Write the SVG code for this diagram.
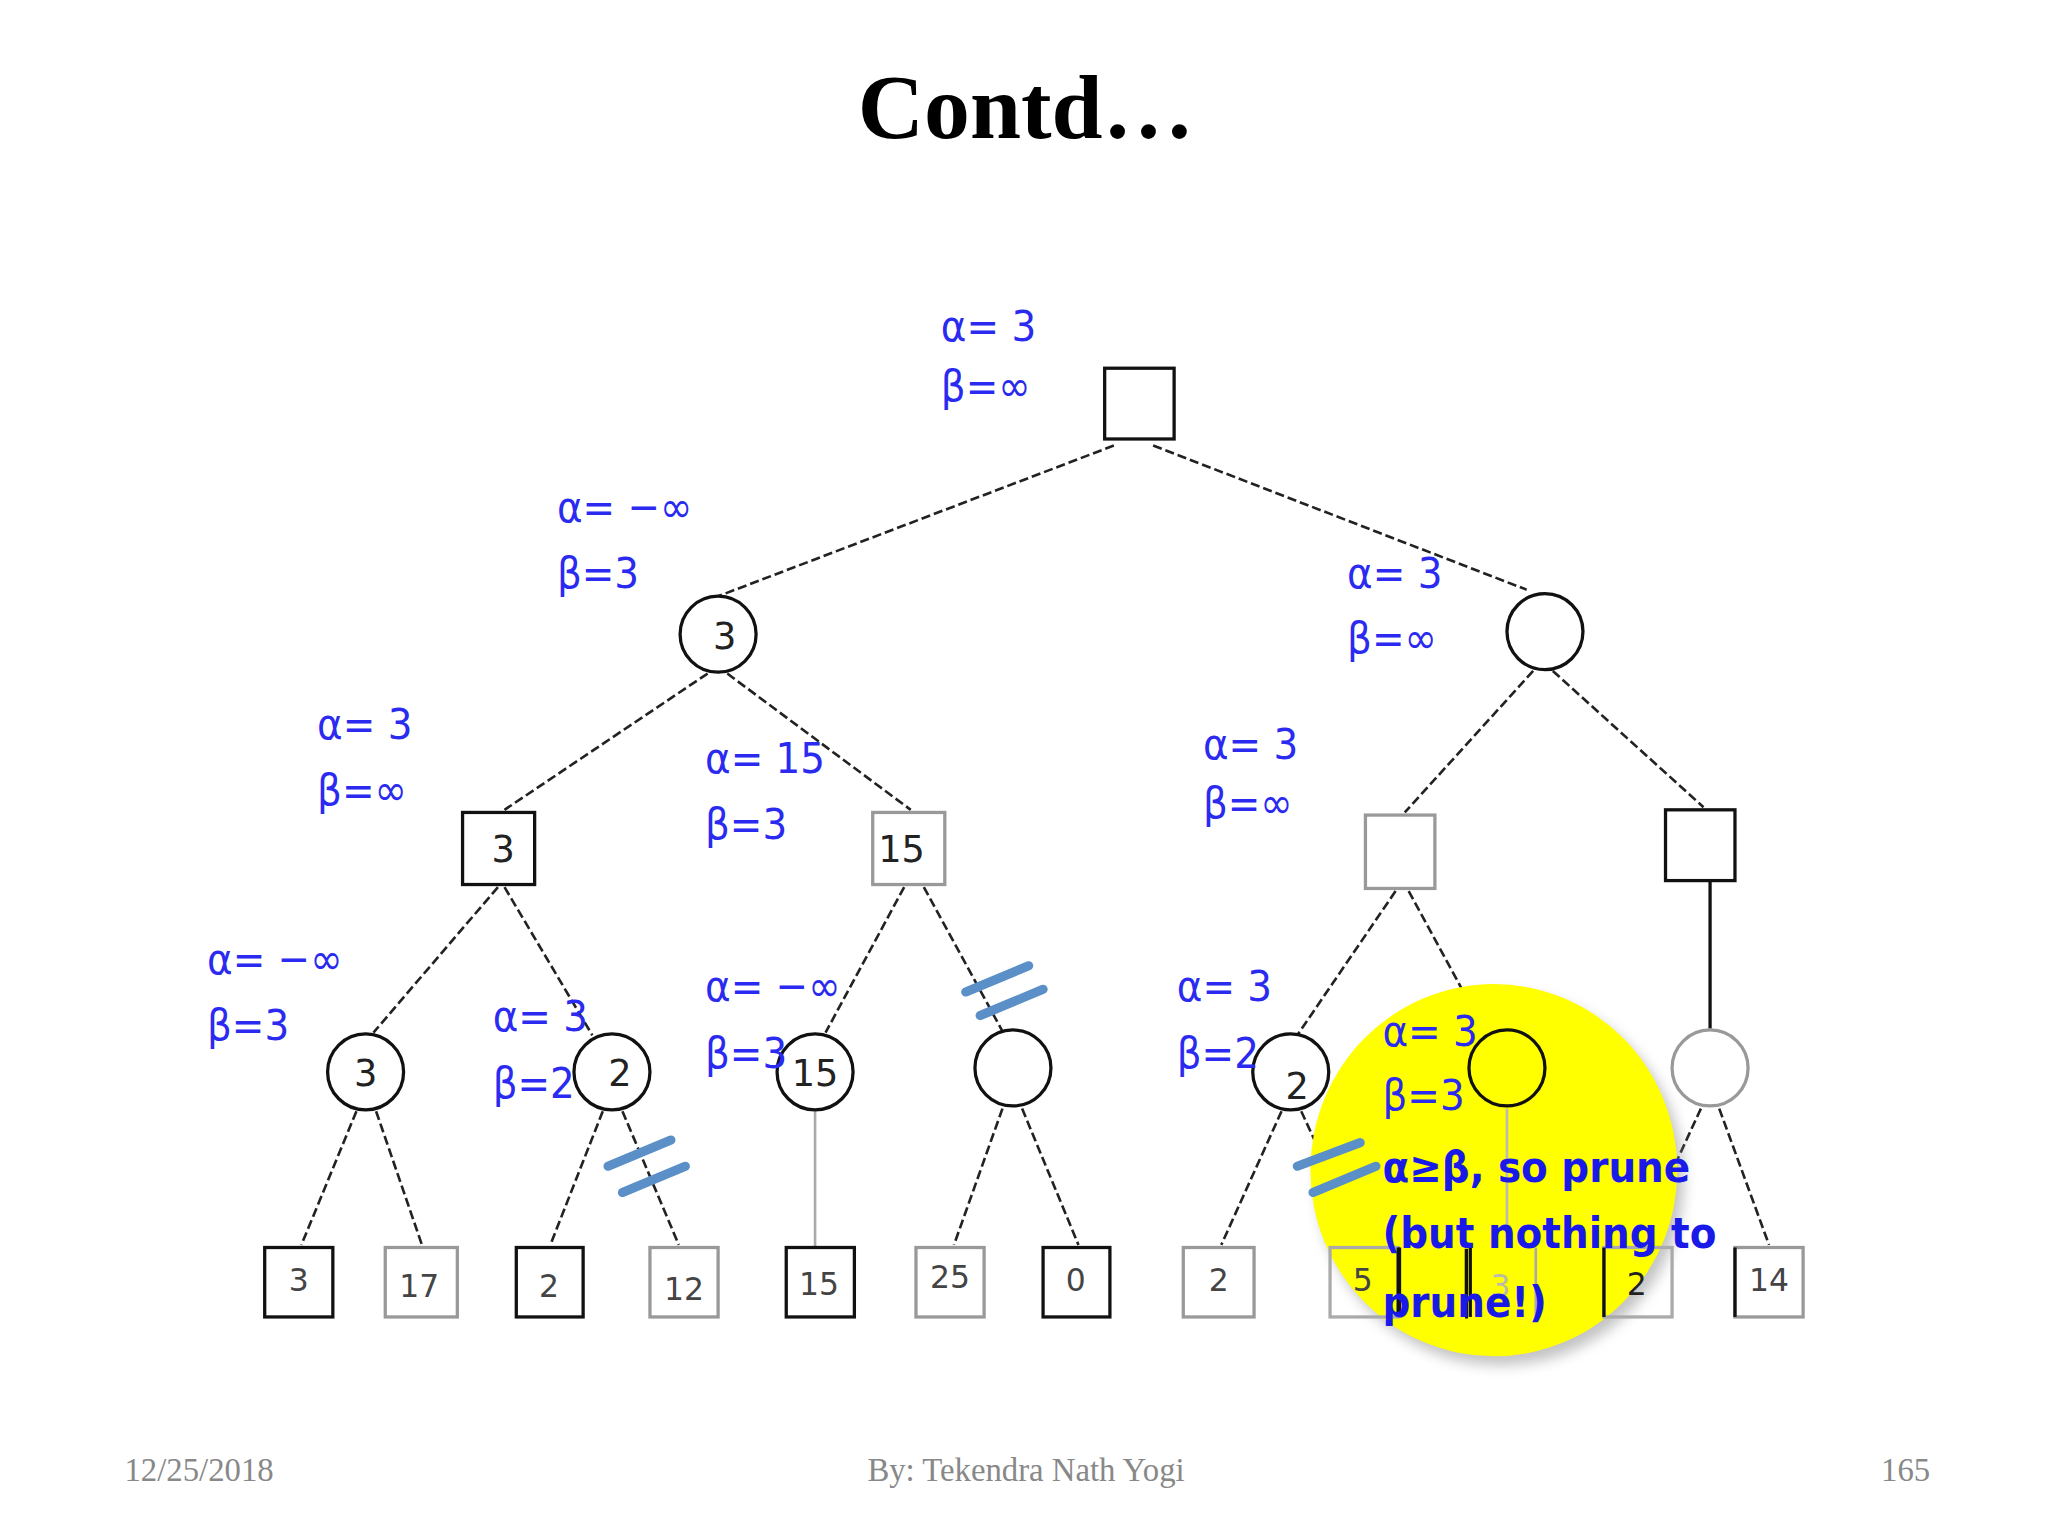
<svg xmlns="http://www.w3.org/2000/svg" width="2048" height="1536" viewBox="0 0 2048 1536">
<defs>
<style>
.lbl{font-family:"DejaVu Sans Condensed","DejaVu Sans",sans-serif;font-size:33px;fill:#2a2af0}
.big{font-family:"DejaVu Sans Condensed","DejaVu Sans",sans-serif;font-size:33px;fill:#1a1ae8;font-weight:bold}
.val{font-family:"DejaVu Sans",sans-serif;font-size:28px;fill:#222;text-anchor:middle}
.leaf{font-family:"DejaVu Sans",sans-serif;font-size:24px;fill:#444;text-anchor:middle}
.nd{fill:#fff;stroke:#111;stroke-width:2.5}
.ndg{fill:#fff;stroke:#999;stroke-width:2.5}
.e{stroke:#222;stroke-width:2;stroke-dasharray:7 3;fill:none}
.p{stroke:#5b8fc7;stroke-width:7;stroke-linecap:round}
.ft{font-family:"Liberation Serif",serif;font-size:25px;fill:#888}
</style>
<filter id="sh"><feGaussianBlur stdDeviation="5"/></filter>
</defs>
<rect width="2048" height="1536" fill="#fff"/>
<g transform="scale(1.3104)">
<text x="783" y="105" text-anchor="middle" font-family="Liberation Serif,serif" font-weight="bold" font-size="70">Contd…</text>
<g id="connectors">
<line class="e" x1="850" y1="340" x2="548" y2="455"/>
<line class="e" x1="880" y1="340" x2="1165" y2="450"/>
<line class="e" x1="540" y1="514" x2="385" y2="618"/>
<line class="e" x1="555" y1="514" x2="695" y2="618"/>
<line class="e" x1="1170" y1="512" x2="1072" y2="620"/>
<line class="e" x1="1185" y1="512" x2="1300" y2="616"/>
<line class="e" x1="380" y1="677" x2="285" y2="788"/>
<line class="e" x1="385" y1="677" x2="452" y2="790"/>
<line class="e" x1="690" y1="677" x2="630" y2="788"/>
<line class="e" x1="705" y1="677" x2="765" y2="787"/>
<line class="e" x1="1065" y1="680" x2="990" y2="790"/>
<line class="e" x1="1075" y1="680" x2="1132" y2="785"/>
<line stroke="#111" stroke-width="2.5" x1="1305" y1="672" x2="1305" y2="785"/>
<line class="e" x1="272" y1="848" x2="230" y2="950"/>
<line class="e" x1="287" y1="848" x2="322" y2="950"/>
<line class="e" x1="460" y1="848" x2="420" y2="950"/>
<line class="e" x1="475" y1="848" x2="518" y2="950"/>
<line stroke="#aaa" stroke-width="2" x1="622" y1="848" x2="622" y2="952"/>
<line class="e" x1="765" y1="846" x2="728" y2="950"/>
<line class="e" x1="780" y1="846" x2="823" y2="950"/>
<line class="e" x1="978" y1="848" x2="932" y2="950"/>
<line class="e" x1="993" y1="848" x2="1040" y2="950"/>
<line class="e" x1="1298" y1="846" x2="1250" y2="950"/>
<line class="e" x1="1312" y1="846" x2="1350" y2="950"/>
</g>
<ellipse cx="1145" cy="900" rx="140" ry="142" fill="#888" opacity="0.5" filter="url(#sh)"/>
<ellipse id="highlight" cx="1140" cy="893" rx="140" ry="142" fill="#ffff00"/>
<line stroke="#bbb" stroke-width="2" x1="1150" y1="846" x2="1150" y2="952"/>
<g id="root"><rect class="nd" x="843" y="281" width="53" height="54"/></g>
<g id="n1"><circle class="nd" cx="548" cy="484" r="29"/><text class="val" x="553" y="495">3</text></g>
<g id="n2"><circle class="nd" cx="1179" cy="482" r="29"/></g>
<g id="n11"><rect class="nd" x="353" y="620" width="55" height="55"/><text class="val" x="384" y="658">3</text></g>
<g id="n12"><rect class="ndg" x="666" y="620" width="55" height="55"/><text class="val" x="688" y="658">15</text></g>
<g id="n21"><rect class="ndg" x="1042" y="622" width="53" height="56"/></g>
<g id="n22"><rect class="nd" x="1271" y="618" width="53" height="54"/></g>
<g id="n111"><circle class="nd" cx="279" cy="818" r="29"/><text class="val" x="279" y="829">3</text></g>
<g id="n112"><circle class="nd" cx="467" cy="818" r="29"/><text class="val" x="473" y="829">2</text></g>
<g id="n121"><circle class="nd" cx="622" cy="818" r="29"/><text class="val" x="622" y="829">15</text></g>
<g id="n122"><circle class="nd" cx="773" cy="815" r="29"/></g>
<g id="n211"><circle class="nd" cx="985" cy="818" r="29"/><text class="val" x="990" y="839">2</text></g>
<g id="n212"><circle class="nd" cx="1150" cy="815" r="29" fill="none" style="fill:none"/></g>
<g id="n221"><circle class="ndg" cx="1305" cy="815" r="29"/></g>
<g id="leaves">
<rect class="nd" x="202" y="952" width="52" height="53"/><text class="leaf" x="228" y="985">3</text>
<rect class="ndg" x="294" y="952" width="55" height="53"/><text class="leaf" x="320" y="990">17</text>
<rect class="nd" x="394" y="952" width="51" height="53"/><text class="leaf" x="419" y="990">2</text>
<rect class="ndg" x="496" y="952" width="52" height="53"/><text class="leaf" x="522" y="992">12</text>
<rect class="nd" x="600" y="952" width="52" height="53"/><text class="leaf" x="625" y="988">15</text>
<rect class="ndg" x="699" y="952" width="52" height="53"/><text class="leaf" x="725" y="983">25</text>
<rect class="nd" x="796" y="952" width="51" height="53"/><text class="leaf" x="821" y="985">0</text>
<rect class="ndg" x="903" y="952" width="54" height="53"/><text class="leaf" x="930" y="985">2</text>
<rect fill="none" stroke="#aaa" stroke-width="2.5" x="1015" y="952" width="52" height="53"/><text class="leaf" x="1040" y="985">5</text>
<rect fill="none" stroke="#111" stroke-width="2.5" x="1067" y="952" width="52" height="53" stroke-dasharray="0 53 53 52 53 0"/>
<line stroke="#111" stroke-width="2.5" x1="1068" y1="952" x2="1068" y2="1005"/>
<line stroke="#111" stroke-width="2.5" x1="1122" y1="952" x2="1122" y2="1005"/>
<line stroke="#aaa" stroke-width="2" x1="1172" y1="952" x2="1172" y2="1005"/>
<text class="leaf" x="1145" y="990" fill="#bbb" style="fill:#bba">3</text>
<rect fill="none" stroke="#aaa" stroke-width="2.5" x="1224" y="952" width="52" height="53"/>
<line stroke="#111" stroke-width="2.5" x1="1224" y1="952" x2="1224" y2="1005"/>
<text class="leaf" x="1249" y="988" style="fill:#222">2</text>
<rect class="ndg" x="1324" y="952" width="52" height="53"/>
<line stroke="#111" stroke-width="2.5" x1="1324" y1="952" x2="1324" y2="1005"/>
<text class="leaf" x="1350" y="985">14</text>
</g>
<g id="prunes">
<line class="p" x1="737" y1="757" x2="785" y2="737"/><line class="p" x1="748" y1="775" x2="796" y2="755"/>
<line class="p" x1="464" y1="890" x2="512" y2="870"/><line class="p" x1="475" y1="910" x2="523" y2="890"/>
<line class="p" x1="990" y1="890" x2="1038" y2="872"/><line class="p" x1="1002" y1="910" x2="1050" y2="890"/>
</g>
<g id="labels">
<text class="lbl" x="718" y="260">α= 3</text><text class="lbl" x="718" y="306">β=∞</text>
<text class="lbl" x="425" y="398">α= −∞</text><text class="lbl" x="425" y="449">β=3</text>
<text class="lbl" x="1028" y="449">α= 3</text><text class="lbl" x="1028" y="498">β=∞</text>
<text class="lbl" x="242" y="564">α= 3</text><text class="lbl" x="242" y="614">β=∞</text>
<text class="lbl" x="538" y="590">α= 15</text><text class="lbl" x="538" y="640">β=3</text>
<text class="lbl" x="918" y="579">α= 3</text><text class="lbl" x="918" y="624">β=∞</text>
<text class="lbl" x="158" y="743">α= −∞</text><text class="lbl" x="158" y="794">β=3</text>
<text class="lbl" x="376" y="787">α= 3</text><text class="lbl" x="376" y="838">β=2</text>
<text class="lbl" x="538" y="764">α= −∞</text><text class="lbl" x="538" y="815">β=3</text>
<text class="lbl" x="898" y="764">α= 3</text><text class="lbl" x="898" y="815">β=2</text>
<text class="lbl" x="1055" y="798">α= 3</text><text class="lbl" x="1055" y="847">β=3</text>
<text class="big" x="1055" y="902">α≥β, so prune</text>
<text class="big" x="1055" y="952">(but nothing to</text>
<text class="big" x="1055" y="1005">prune!)</text>
</g>
<text class="ft" x="95" y="1130">12/25/2018</text>
<text class="ft" x="783" y="1130" text-anchor="middle">By: Tekendra Nath Yogi</text>
<text class="ft" x="1473" y="1130" text-anchor="end">165</text>
</g>
</svg>
